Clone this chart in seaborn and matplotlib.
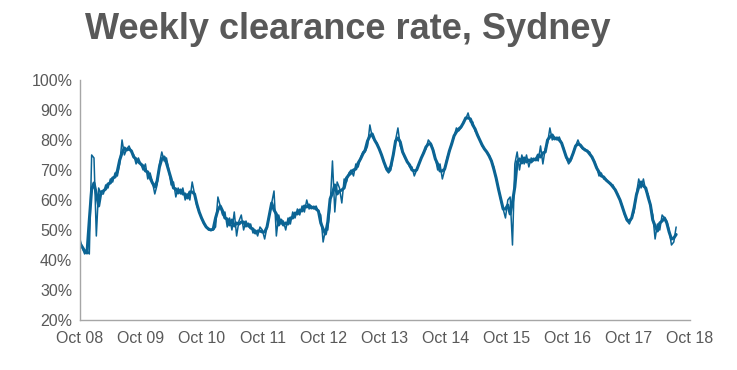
import numpy as np
import pandas as pd
import matplotlib
matplotlib.use("Agg")
import matplotlib.pyplot as plt
from matplotlib.ticker import PercentFormatter
import seaborn as sns

# Fortnightly readings of the weekly clearance rate (%), Oct 2008 onwards
rate_0809 = [47, 44, 42, 43, 42, 75, 74, 48, 64, 62, 62, 65, 64, 67, 66, 69, 68, 72, 80, 75, 77, 78, 76, 75, 72]
rate_0910 = [74, 72, 70, 72, 67, 69, 66, 62, 65, 72, 76, 73, 74, 70, 65, 66, 61, 64, 62, 64, 60, 62, 60, 66, 62, 58]
rate_1011 = [56, 54, 52, 51, 50, 50, 50, 51, 61, 58, 55, 56, 51, 54, 50, 56, 48, 53, 55, 50, 53, 51, 52, 49, 50, 48]
rate_1112 = [51, 50, 47, 51, 55, 59, 63, 48, 55, 52, 53, 50, 54, 52, 56, 54, 57, 55, 58, 56, 60, 57, 58, 57, 58, 56]
rate_1213 = [55, 46, 50, 50, 58, 73, 56, 66, 64, 59, 67, 66, 69, 70, 68, 72, 71, 74, 76, 76, 78, 85, 81, 80, 79, 77]
rate_1314 = [75, 73, 70, 69, 70, 75, 80, 84, 78, 76, 74, 73, 71, 71, 68, 70, 72, 74, 76, 77, 80, 79, 77, 74, 70, 72]
rate_1415 = [67, 70, 74, 76, 79, 81, 84, 83, 84, 86, 87, 89, 86, 86, 83, 82, 80, 78, 77, 76, 75, 73, 71, 67, 64, 60]
rate_1516 = [57, 54, 60, 61, 45, 72, 76, 70, 75, 72, 75, 71, 74, 73, 74, 73, 78, 72, 77, 79, 84, 80, 81, 80, 81, 79]
rate_1617 = [77, 74, 72, 73, 76, 78, 80, 78, 77, 77, 76, 76, 74, 73, 71, 68, 69, 67, 67, 66, 65, 65, 63, 62, 60, 58]
rate_1718 = [55, 53, 52, 54, 56, 62, 67, 64, 67, 63, 62, 58, 55, 47, 52, 50, 55, 54, 53, 50, 45, 46, 51]

tick_labels = ["Oct 08", "Oct 09", "Oct 10", "Oct 11", "Oct 12", "Oct 13",
               "Oct 14", "Oct 15", "Oct 16", "Oct 17", "Oct 18"]
tick_years = list(range(2008, 2019))

rates = (rate_0809 + rate_0910 + rate_1011 + rate_1112 + rate_1213 + rate_1314
         + rate_1415 + rate_1516 + rate_1617 + rate_1718)
dates = pd.date_range("2008-10-01", periods=len(rates), freq="14D")
df = pd.DataFrame({"date": dates, "rate": rates})
df["avg"] = df["rate"].rolling(3, center=True, min_periods=1).mean()

sns.set_theme(style="white")
plt.rcParams["font.family"] = ["Liberation Sans", "DejaVu Sans"]

fig = plt.figure(figsize=(7.37, 3.70), dpi=100)
ax = fig.add_axes([0.1085, 0.135, 0.8275, 0.649])

blue = "#0B6494"
sns.lineplot(data=df, x="date", y="rate", ax=ax, color=blue, linewidth=1.1)
sns.lineplot(data=df, x="date", y="avg", ax=ax, color=blue, linewidth=2.2)

ax.set_ylim(20, 100)
ax.set_yticks(range(20, 101, 10))
ax.yaxis.set_major_formatter(PercentFormatter(decimals=0))
ticks = [pd.Timestamp(f"{y}-10-01") for y in tick_years]
ax.set_xlim(ticks[0], ticks[-1])
ax.set_xticks(ticks)
ax.set_xticklabels(tick_labels)
ax.set_xlabel("")
ax.set_ylabel("")

grey = "#A6A6A6"
for s in ["top", "right"]:
    ax.spines[s].set_visible(False)
for s in ["left", "bottom"]:
    ax.spines[s].set_color(grey)
    ax.spines[s].set_linewidth(1.0)
ax.tick_params(axis="both", which="major", direction="out", length=4, width=1,
               color=grey, labelcolor="#595959", labelsize=11.5, pad=1.5)
ax.tick_params(axis="x", pad=4)

fig.text(0.472, 0.92, "Weekly clearance rate, Sydney", ha="center", va="center",
         fontsize=26, fontweight="bold", color="#595959")

fig.savefig("out.png", dpi=100)
